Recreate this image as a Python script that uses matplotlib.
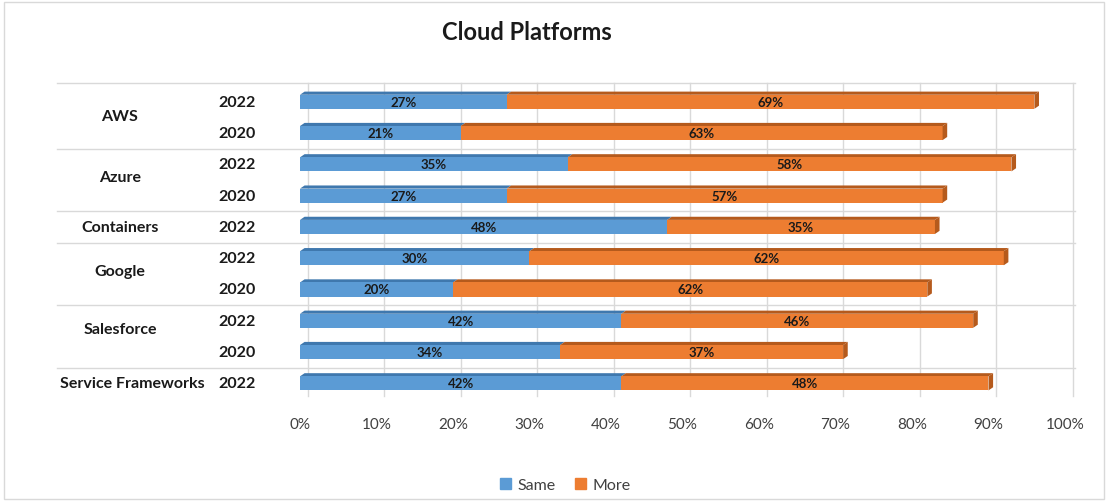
import numpy as np
import matplotlib
matplotlib.use("Agg")
import matplotlib.pyplot as plt
from matplotlib.patches import Polygon, Rectangle
import matplotlib.transforms as mtransforms

plt.rcParams['font.family'] = ['Lato', 'DejaVu Sans']

groups = ["AWS", "Azure", "Containers", "Google", "Salesforce", "Service Frameworks"]
group_years = [["2022", "2020"], ["2022", "2020"], ["2022"], ["2022", "2020"], ["2022", "2020"], ["2022"]]
same = [27, 21, 35, 27, 48, 30, 20, 42, 34, 42]
more = [69, 63, 58, 57, 35, 62, 62, 46, 37, 48]
xticks = [0, 10, 20, 30, 40, 50, 60, 70, 80, 90, 100]
series_names = ["Same", "More"]

blue = "#5B9BD5"
orange = "#ED7D31"
blue_dark = "#3F78AE"
orange_dark = "#B55A1C"

fig = plt.figure(figsize=(11.09, 5.02), dpi=100)
ax = fig.add_axes([300/1109, 1-400/502, 765/1109, (400-84)/502])

n = len(same)
ypos = np.arange(n)
h = 0.45
s = np.array(same) / 100.0
m = np.array(more) / 100.0

ax.set_xlim(0, 1)
ax.set_ylim(n - 0.5, -0.6)

# gridlines (back wall, slightly offset)
off = mtransforms.offset_copy(ax.transData, fig=fig, x=8, y=0, units='dots')
for t in xticks:
    ax.plot([t/100, t/100], [-0.6, n - 0.6], color="#d9d9d9", lw=1.0,
            transform=off, zorder=0, clip_on=False)

ax.barh(ypos, s, height=h, color=blue, zorder=3)
ax.barh(ypos, m, left=s, height=h, color=orange, zorder=3)

# 3D top faces and end caps
dx = 0.006
dy = 0.1
for i in range(n):
    y_top = ypos[i] - h/2
    y_bot = ypos[i] + h/2
    end = s[i] + m[i]
    ax.add_patch(Polygon([(0, y_top), (s[i], y_top), (s[i] + dx, y_top - dy), (dx, y_top - dy)],
                         closed=True, facecolor=blue_dark, edgecolor='none', zorder=2))
    ax.add_patch(Polygon([(s[i], y_top), (end, y_top), (end + dx, y_top - dy), (s[i] + dx, y_top - dy)],
                         closed=True, facecolor=orange_dark, edgecolor='none', zorder=2))
    ax.add_patch(Polygon([(end, y_top), (end + dx, y_top - dy), (end + dx, y_bot - dy), (end, y_bot)],
                         closed=True, facecolor=orange_dark, edgecolor='none', zorder=4, clip_on=False))
    ax.text(s[i]/2, ypos[i], f"{same[i]}%", ha='center', va='center', fontsize=9.5,
            fontweight='bold', color='#1a1a1a', zorder=5)
    ax.text(s[i] + m[i]/2, ypos[i], f"{more[i]}%", ha='center', va='center', fontsize=9.5,
            fontweight='bold', color='#1a1a1a', zorder=5)

# axis labels
ax.set_xticks([t/100 for t in xticks])
ax.set_xticklabels([f"{t}%" for t in xticks], fontsize=11, color='#404040')
ax.tick_params(axis='x', length=0, pad=13)
ax.set_yticks([])
for sp in ax.spines.values():
    sp.set_visible(False)

# year labels and group labels
tr = mtransforms.blended_transform_factory(fig.transFigure, ax.transData)
label_nudge = [0.05, 0.1, 0.0, 0.1, 0.25, 0.0]
idx = 0
bounds = []
for g, yrs, nud in zip(groups, group_years, label_nudge):
    start = idx
    for yr in yrs:
        ax.text(237/1109, ypos[idx], yr, transform=tr, ha='center', va='center',
                fontsize=11.5, fontweight='bold', color='#1a1a1a')
        idx += 1
    center = (ypos[start] + ypos[idx-1]) / 2 - nud
    gx = 120/1109 if g != "Service Frameworks" else 132/1109
    ax.text(gx, center, g, transform=tr, ha='center', va='center',
            fontsize=11.5, fontweight='bold', color='#1a1a1a')
    bounds.append(idx - 0.5)

trx = mtransforms.blended_transform_factory(ax.transAxes, ax.transData)
ax.plot([-0.318, 1.013], [-0.6, -0.6], color="#d9d9d9", lw=1.0, transform=trx, clip_on=False, zorder=0)
for b in bounds[:-1]:
    ax.plot([-0.318, 1.013], [b, b], color="#d9d9d9", lw=1.0, transform=trx, clip_on=False, zorder=0)

fig.text(527/1109, 1-33/502, "Cloud Platforms", ha='center', va='center',
         fontsize=17, fontweight='bold', color='#1a1a1a')

handles = [Rectangle((0, 0), 1, 1, color=blue), Rectangle((0, 0), 1, 1, color=orange)]
fig.legend(handles, series_names, loc='center', bbox_to_anchor=(565/1109, 1-486/502),
           ncol=2, frameon=False, fontsize=11.5, handlelength=0.7, handleheight=0.7,
           handletextpad=0.4, columnspacing=1.2, labelcolor='#404040')

fig.add_artist(Rectangle((4/1109, 2/502), 1100/1109, 497/502, transform=fig.transFigure,
                         fill=False, edgecolor='#d9d9d9', lw=1.0))

fig.savefig("out.png", dpi=100)
